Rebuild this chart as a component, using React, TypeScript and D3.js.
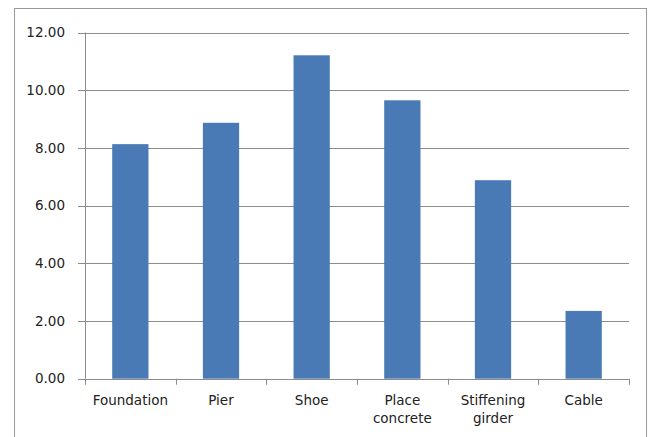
import React from "react";
import * as d3 from "d3";

const categories: string[][] = [
  ["Foundation"],
  ["Pier"],
  ["Shoe"],
  ["Place", "concrete"],
  ["Stiffening", "girder"],
  ["Cable"],
];
const values: number[] = [8.13, 8.87, 11.21, 9.65, 6.88, 2.35];
const yTicks: number[] = [0, 2, 4, 6, 8, 10, 12];

const W = 651;
const H = 437;
const plot = { left: 85, right: 629, top: 32.5, bottom: 378.7 };

export default function App() {
  const keys = categories.map((c) => c.join(" "));
  const x = d3
    .scaleBand<string>()
    .domain(keys)
    .range([plot.left, plot.right])
    .paddingInner(0.6)
    .paddingOuter(0.3);
  const band = d3.scaleBand<string>().domain(keys).range([plot.left, plot.right]);
  const y = d3.scaleLinear().domain([0, 12]).range([plot.bottom, plot.top]);
  const font = "'DejaVu Sans', Verdana, sans-serif";
  const textColor = "#222";
  const lineColor = "#8c8c8c";
  const fs = 13.5;

  return (
    <svg
      width={W}
      height={H}
      style={{ position: "absolute", left: 0, top: 0, display: "block" }}
    >
      <rect x={0} y={0} width={W} height={H} fill="#fff" />
      <rect x={14.5} y={8.5} width={632} height={H} fill="#fff" stroke="#999" strokeWidth={1} />
      {yTicks.map((t) => (
        <g key={t}>
          <line
            x1={plot.left - 7}
            x2={plot.right}
            y1={Math.round(y(t)) + 0.5}
            y2={Math.round(y(t)) + 0.5}
            stroke={lineColor}
            strokeWidth={1}
          />
          <text
            x={65}
            y={y(t)}
            dy="0.35em"
            textAnchor="end"
            fontFamily={font}
            fontSize={fs}
            fill={textColor}
          >
            {t.toFixed(2)}
          </text>
        </g>
      ))}
      {keys.map((k, i) => (
        <rect
          key={k}
          x={x(k)}
          y={y(values[i])}
          width={x.bandwidth()}
          height={y(0) - y(values[i])}
          fill="#4a7ab5"
        />
      ))}
      <line
        x1={plot.left + 0.5}
        x2={plot.left + 0.5}
        y1={plot.top}
        y2={plot.bottom}
        stroke={lineColor}
      />
      <line
        x1={plot.left - 7}
        x2={plot.right}
        y1={Math.round(y(0)) + 0.5}
        y2={Math.round(y(0)) + 0.5}
        stroke={lineColor}
      />
      {[...keys.map((k) => band(k) as number), plot.right].map((px, i) => (
        <line
          key={i}
          x1={Math.round(px) + 0.5}
          x2={Math.round(px) + 0.5}
          y1={y(0)}
          y2={y(0) + 6}
          stroke={lineColor}
        />
      ))}
      {categories.map((lines, i) => (
        <text
          key={i}
          x={(band(keys[i]) as number) + band.bandwidth() / 2}
          y={404.5}
          textAnchor="middle"
          fontFamily={font}
          fontSize={fs}
          fill={textColor}
        >
          {lines.map((ln, j) => (
            <tspan key={j} x={(band(keys[i]) as number) + band.bandwidth() / 2} dy={j === 0 ? 0 : 18}>
              {ln}
            </tspan>
          ))}
        </text>
      ))}
    </svg>
  );
}
